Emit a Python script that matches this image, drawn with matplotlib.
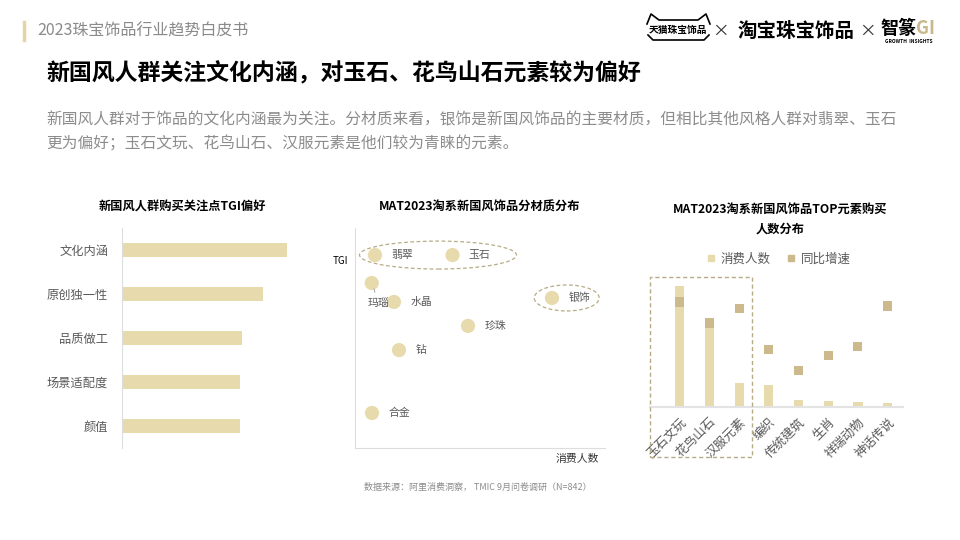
import matplotlib.pyplot as plt
from matplotlib.patches import Ellipse, Rectangle
from matplotlib.lines import Line2D

plt.rcParams['font.family'] = ['Noto Sans CJK SC', 'DejaVu Sans']

W, H = 960, 540

# ---- data ----
tgi_cats = ["文化内涵", "原创独一性", "品质做工", "场景适配度", "颜值"]
tgi_vals = [165, 141, 120, 117.5, 117.5]

mat_names = ["翡翠", "玉石", "玛瑙", "水晶", "银饰", "珍珠", "钻", "合金"]
mat_users = [8, 39, 6.7, 15.6, 78.8, 45.2, 17.6, 6.8]
mat_tgi = [87.7, 87.7, 75, 66.4, 68.2, 55.5, 44.5, 15.9]

elem_cats = ["玉石文玩", "花鸟山石", "汉服元素", "编织", "传统建筑", "生肖", "祥瑞动物", "神话传说"]
elem_users = [120.7, 86.7, 24.4, 22.4, 7.4, 6.4, 4.7, 4.4]
elem_growth = [105, 84, 98.4, 57.7, 36.7, 51.7, 60.7, 101]

BAR = "#E7DBAD"
DARK = "#CDBA8C"
GRAY = "#595959"
SPINE = "#DDDDDD"


def rect(x0, y0, x1, y1):
    # pixel box (top-left origin) -> figure fraction
    return [x0 / W, 1 - y1 / H, (x1 - x0) / W, (y1 - y0) / H]


def fx(x):
    return x / W


def fy(y):
    return 1 - y / H


fig = plt.figure(figsize=(9.6, 5.4), dpi=100)

# ---- header ----
fig.add_artist(Line2D([fx(24), fx(24)], [fy(22), fy(40)], color="#E3D5A5", lw=2.5))
fig.text(fx(37), fy(31), "2023珠宝饰品行业趋势白皮书", fontsize=11.5, color="#8a8a8a", va="center")

# logos (approximate with text)
fig.add_artist(Line2D([fx(647), fx(651), fx(659), fx(698), fx(706), fx(710)],
                      [fy(24), fy(14), fy(20), fy(20), fy(14), fy(24)], color="black", lw=1.2))
fig.add_artist(Line2D([fx(648), fx(653), fx(704), fx(709)],
                      [fy(35), fy(40), fy(40), fy(35)], color="black", lw=1.2))
fig.text(fx(678), fy(30), "天猫珠宝饰品", fontsize=7, weight="bold", ha="center", va="center")
fig.text(fx(720), fy(31), "×", fontsize=12, color="#333333", ha="center", va="center")
fig.text(fx(796), fy(31), "淘宝珠宝饰品", fontsize=14, weight="black", ha="center", va="center")
fig.text(fx(867), fy(31), "×", fontsize=12, color="#333333", ha="center", va="center")
fig.text(fx(880), fy(29), "智篆", fontsize=13, weight="black", ha="left", va="center")
fig.text(fx(916), fy(29), "GI", fontsize=13, weight="black", color="#C9B88A", ha="left", va="center")
fig.text(fx(909), fy(42), "GROWTH  INSIGHTS", fontsize=3.5, weight="bold", ha="center", va="center")

# ---- title & intro ----
fig.text(fx(46), fy(74), "新国风人群关注文化内涵，对玉石、花鸟山石元素较为偏好",
         fontsize=16.5, weight="bold", color="black", va="center")
fig.text(fx(46), fy(120),
         "新国风人群对于饰品的文化内涵最为关注。分材质来看，银饰是新国风饰品的主要材质，但相比其他风格人群对翡翠、玉石",
         fontsize=11.3, color="#8c8c8c", va="center")
fig.text(fx(46), fy(144), "更为偏好；玉石文玩、花鸟山石、汉服元素是他们较为青睐的元素。",
         fontsize=11.3, color="#8c8c8c", va="center")

# ---- chart 1: TGI bars ----
ax1 = fig.add_axes(rect(122, 228, 302, 448))
ax1.barh(range(len(tgi_cats)), tgi_vals, height=0.34, color=BAR)
ax1.set_ylim(4.5, -0.5)
ax1.set_xlim(0, 180)
ax1.set_yticks(range(len(tgi_cats)))
ax1.set_yticklabels(tgi_cats, fontsize=8.8, color=GRAY)
ax1.set_xticks([])
ax1.tick_params(axis="y", length=0, pad=10)
for s in ["top", "right", "bottom"]:
    ax1.spines[s].set_visible(False)
ax1.spines["left"].set_color(SPINE)
fig.text(fx(182), fy(207), "新国风人群购买关注点TGI偏好", fontsize=8.8, weight="bold", ha="center", va="center")

# ---- chart 2: material scatter ----
ax2 = fig.add_axes(rect(355, 228, 605, 448))
ax2.scatter(mat_users, mat_tgi, s=105, color=BAR, edgecolor="none", zorder=3)
ax2.set_xlim(0, 100)
ax2.set_ylim(0, 100)
ax2.set_xticks([])
ax2.set_yticks([])
for s in ["top", "right"]:
    ax2.spines[s].set_visible(False)
for s in ["left", "bottom"]:
    ax2.spines[s].set_color(SPINE)
for name, x, y in zip(mat_names, mat_users, mat_tgi):
    if name == "玛瑙":
        ax2.annotate(name, xy=(x + 0.6, y - 1.5), xytext=(x + 2.5, y - 9),
                     fontsize=7.8, color=GRAY, ha="center", va="center",
                     arrowprops=dict(arrowstyle="-", color="#999999", lw=0.6))
    else:
        ax2.text(x + 6.5, y, name, fontsize=7.8, color=GRAY, ha="left", va="center")
ax2.add_patch(Ellipse((33.2, 87.7), 62.8, 12.7, fill=False, ls=(0, (3, 2)), lw=0.9, ec="#B8AB86"))
ax2.add_patch(Ellipse((84.7, 68.2), 26, 11.8, fill=False, ls=(0, (3, 2)), lw=0.9, ec="#B8AB86"))
fig.text(fx(333), fy(261), "TGI", fontsize=7, ha="left", va="center")
fig.text(fx(577), fy(459), "消费人数", fontsize=7.8, color="#333333", ha="center", va="center")
fig.text(fx(480), fy(207), "MAT2023淘系新国风饰品分材质分布", fontsize=8.8, weight="bold", ha="center", va="center")

# ---- chart 3: elements ----
ax3 = fig.add_axes(rect(650, 265, 902.5, 407))
xs = list(range(len(elem_cats)))
ax3.bar(xs, elem_users, width=0.31, color=BAR, zorder=2)
ax3b = ax3.twinx()
ax3b.scatter(xs, elem_growth, marker="s", s=42, color=DARK, edgecolor="none", zorder=3)
for a in (ax3, ax3b):
    a.set_ylim(0, 142)
    a.set_xlim(-1.0, 7.5)
    a.set_yticks([])
    for s in ["top", "right", "left"]:
        a.spines[s].set_visible(False)
ax3.spines["bottom"].set_color("#E3E3E3")
ax3.spines["bottom"].set_linewidth(1.5)
ax3b.spines["bottom"].set_visible(False)
ax3.set_xticks(xs)
ax3.set_xticklabels(elem_cats, rotation=45, ha="right", rotation_mode="anchor",
                    fontsize=9, color=GRAY)
ax3.tick_params(axis="x", length=0, pad=6)
fig.text(fx(780), fy(209), "MAT2023淘系新国风饰品TOP元素购买", fontsize=8.8, weight="bold", ha="center", va="center")
fig.text(fx(780), fy(229), "人数分布", fontsize=8.8, weight="bold", ha="center", va="center")
handles = [Line2D([], [], marker="s", ls="", color=BAR, markersize=5),
           Line2D([], [], marker="s", ls="", color=DARK, markersize=5)]
fig.legend(handles, ["消费人数", "同比增速"], loc="center", bbox_to_anchor=(fx(778), fy(259)),
           ncol=2, frameon=False, fontsize=9, handlelength=0.8, handletextpad=0.4,
           columnspacing=1.2, labelcolor=GRAY)
fig.add_artist(Rectangle((fx(650), fy(457)), fx(752) - fx(650), fy(277) - fy(457),
                         fill=False, ls=(0, (3, 2)), lw=1, ec="#B8AB86", transform=fig.transFigure))

# ---- source ----
fig.text(fx(478), fy(487), "数据来源：阿里消费洞察， TMIC 9月问卷调研（N=842）",
         fontsize=6.5, color="#8c8c8c", ha="center", va="center")

fig.savefig("out.png", dpi=100)
